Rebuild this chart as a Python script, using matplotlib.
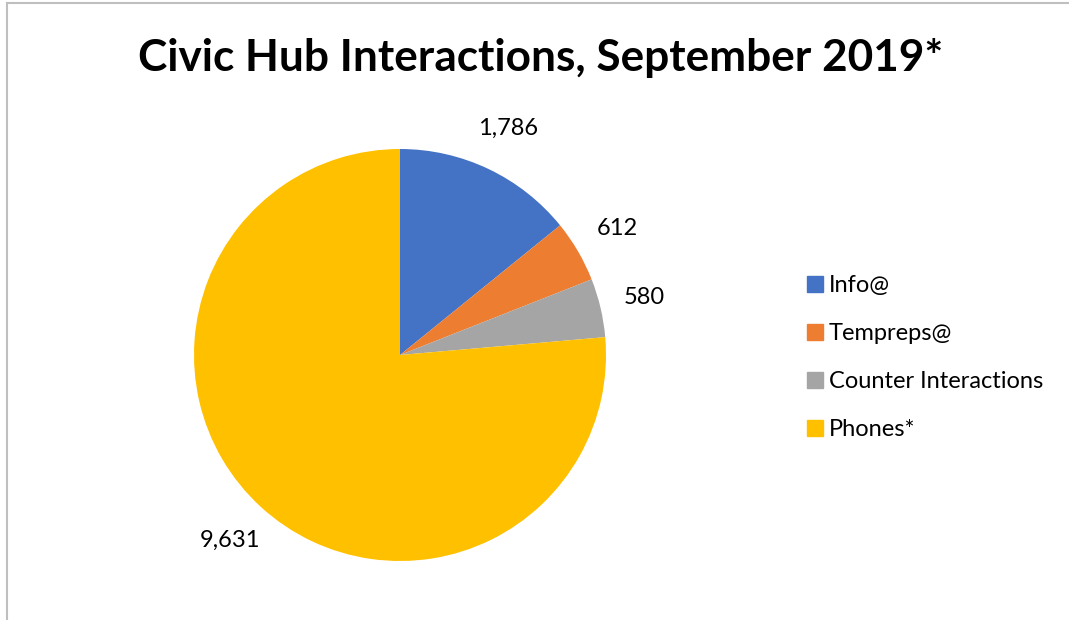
import matplotlib.pyplot as plt
from matplotlib.lines import Line2D

plt.rcParams['font.family'] = ['Lato', 'DejaVu Sans']

categories = ['Info@', 'Tempreps@', 'Counter Interactions', 'Phones*']
values = [1786, 612, 580, 9631]
colors = ['#4472C4', '#ED7D31', '#A5A5A5', '#FFC000']

W, H = 1069, 620
fig = plt.figure(figsize=(W / 100, H / 100), dpi=100)

# pie area: centre (400, 355), radius 206 px
cx, cy, r = 400, 355, 206
ax = fig.add_axes([(cx - r) / W, (H - cy - r) / H, 2 * r / W, 2 * r / H])
wedges, texts = ax.pie(values, colors=colors, startangle=90, counterclock=False,
                       labels=[f'{v:,}' for v in values], labeldistance=1.22,
                       textprops={'fontsize': 17, 'color': '#000000'},
                       wedgeprops={'linewidth': 0})
for t in texts:
    t.set_horizontalalignment('center')
    t.set_verticalalignment('center')
ax.set_xlim(-1, 1)
ax.set_ylim(-1, 1)
ax.set_aspect('equal')
ax.axis('off')

fig.text(541 / W, 1 - 58 / H, 'Civic Hub Interactions, September 2019*',
         ha='center', va='center', fontsize=31.8, fontweight='bold')

handles = [Line2D([0], [0], marker='s', linestyle='none', markersize=11,
                  markerfacecolor=c, markeredgecolor=c) for c in colors]
fig.legend(handles, categories, loc='upper left', bbox_to_anchor=(796 / W, 1 - 263 / H),
           frameon=False, fontsize=17, handlelength=0.6, handletextpad=0.3,
           labelspacing=1.15, borderpad=0)

# chart-area border (top and left edges visible)
fig.add_artist(Line2D([7 / W, 7 / W], [0, 1 - 3 / H], color='#BFBFBF', linewidth=1.5,
                      transform=fig.transFigure))
fig.add_artist(Line2D([7 / W, 1], [1 - 3 / H, 1 - 3 / H], color='#BFBFBF', linewidth=1.5,
                      transform=fig.transFigure))

fig.savefig('out.png', dpi=100)
